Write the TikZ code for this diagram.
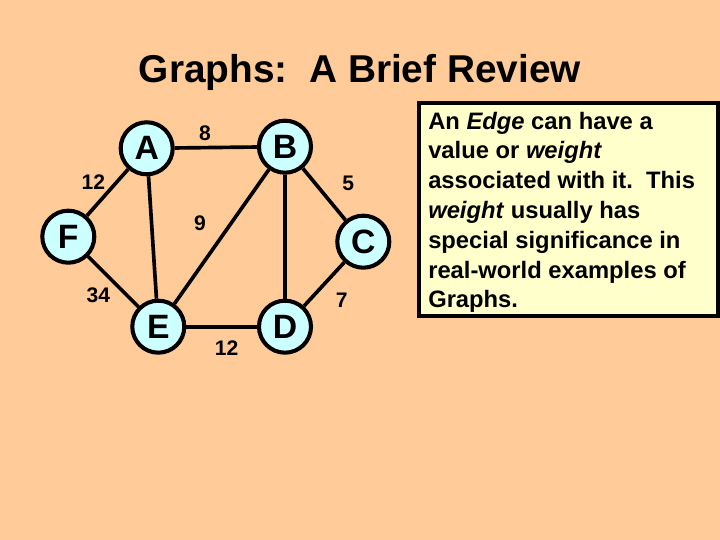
\documentclass[tikz,border=0pt]{standalone}
\usepackage{fontspec}
\setmainfont{Liberation Sans}
\usepackage{tikz}
\usetikzlibrary{positioning}
\definecolor{slideBg}{RGB}{255,204,153}
\definecolor{noteBg}{RGB}{255,255,204}
\definecolor{vertexBg}{RGB}{204,255,255}
\newcommand{\bigsans}[1]{\fontsize{#1}{1.2\dimexpr#1\relax}\selectfont\bfseries}

\begin{document}
\begin{tikzpicture}[x=0.025cm,y=-0.025cm,
  vertex/.style={circle,draw=black,fill=vertexBg,line width=2.9pt,
    minimum size=1.3cm,inner sep=0pt,font=\bigsans{24pt}},
  edge/.style={line width=2.6pt,black},
  weight/.style={inner sep=0pt,font=\bigsans{15pt}}]

%─── Slide background ────────────────────────────────────────────────────────
\fill[slideBg] (0,0) rectangle (720,540);
\node[anchor=base,font=\bigsans{27.6pt}] (title) at (360,83) {Graphs:\ \ A Brief Review};

%─── Vertices ────────────────────────────────────────────────────────────────
\node[vertex] (A) at (146.7,148.3) {A};
\node[vertex] (B) at (285,146.7) {B};
\node[vertex] (F) at (68.3,236.7) {F};
\node[vertex] (C) at (363.3,241.7) {C};
\node[vertex] (E) at (158.3,326.7) {E};
\node[vertex] (D) at (285,326.7) {D};

%─── Edges ───────────────────────────────────────────────────────────────────
\draw[edge] (A) -- (B);
\draw[edge] (A) -- (F);
\draw[edge] (A) -- (E);
\draw[edge] (B) -- (E);
\draw[edge] (B) -- (D);
\draw[edge] (B) -- (C);
\draw[edge] (F) -- (E);
\draw[edge] (C) -- (D);
\draw[edge] (E) -- (D);

%─── Weights ─────────────────────────────────────────────────────────────────
\node[weight] (wAB) at (205,133.3) {8};
\node[weight] (wAF) at (93.3,181.7) {12};
\node[weight] (wBC) at (348.3,183.3) {5};
\node[weight] (wBE) at (200,223.3) {9};
\node[weight] (wFE) at (98.3,295) {34};
\node[weight] (wCD) at (341.7,300) {7};
\node[weight] (wED) at (226.7,348.3) {12};

%─── Note box ────────────────────────────────────────────────────────────────
\filldraw[fill=noteBg,draw=black,line width=2.9pt] (419,103) rectangle (718,316);
% base anchor sits on the last line
\node[anchor=base west,align=left,inner sep=0pt,font=\fontsize{16.9pt}{21.2pt}\selectfont\bfseries]
  (note) at (428,308)
  {An \textit{Edge} can have a\\
   value or \textit{weight}\\
   associated with it.\ \ This\\
   \textit{weight} usually has\\
   special significance in\\
   real-world examples of\\
   Graphs.};

\end{tikzpicture}
\end{document}
